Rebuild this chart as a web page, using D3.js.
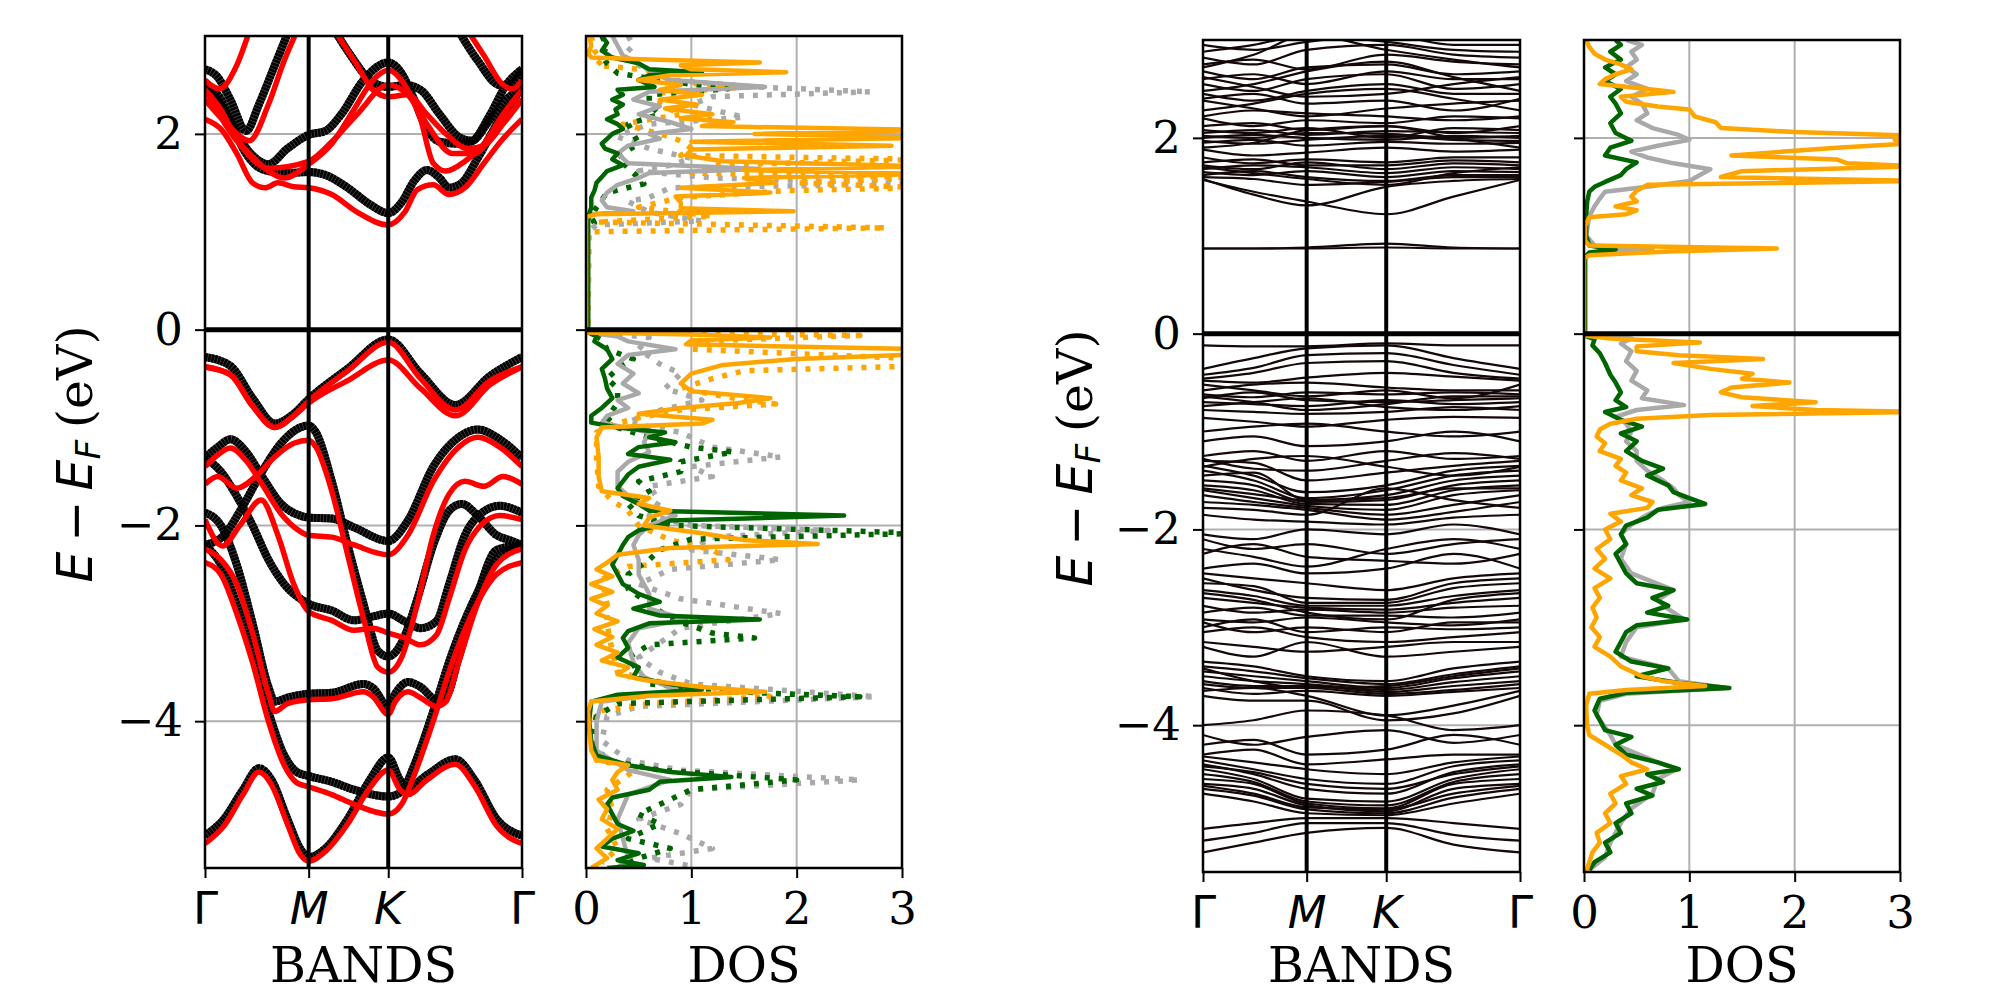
<!DOCTYPE html>
<html>
<head>
<meta charset="utf-8">
<script src="https://cdn.jsdelivr.net/npm/d3@7"></script>
<style>
  body { margin: 0; background: #fff; }
  svg { display: block; }
</style>
</head>
<body>
<script>
// ---------- ticks / ranges ----------
const eTicks = [-4, -2, 0, 2];
const dosTicks = [0, 1, 2, 3];
const kTicks = [0, 0.327, 0.578, 1];
const kLabels = ["Γ", "M", "K", "Γ"];
const eRange = [-5.5, 3];
const dosRange = [0, 3];

// ---------- left bands: [k, E] ----------
const leftBandsBlack = [
  [[0,-0.28],[0.08,-0.37],[0.15,-0.70],[0.22,-0.96],[0.28,-0.86],[0.327,-0.71],[0.45,-0.40],[0.578,-0.10],[0.68,-0.45],[0.79,-0.77],[0.9,-0.47],[1,-0.28]],
  [[0,-1.31],[0.04,-1.2],[0.08,-1.12],[0.13,-1.25],[0.18,-1.5],[0.24,-1.78],[0.3,-1.9],[0.327,-1.92],[0.4,-1.93],[0.47,-2.02],[0.578,-2.16],[0.64,-1.95],[0.72,-1.4],[0.8,-1.1],[0.86,-1.02],[0.93,-1.12],[1,-1.31]],
  [[0,-2.2],[0.06,-2.1],[0.12,-1.8],[0.18,-1.45],[0.24,-1.16],[0.3,-1.0],[0.327,-0.98],[0.35,-1.05],[0.4,-1.55],[0.45,-2.2],[0.5,-2.8],[0.545,-3.28],[0.578,-3.34],[0.62,-3.2],[0.67,-2.75],[0.72,-2.2],[0.77,-1.85],[0.81,-1.78],[0.86,-1.9],[0.92,-2.1],[0.96,-2.15],[1,-2.2]],
  [[0,-1.31],[0.05,-1.45],[0.1,-1.7],[0.15,-2.0],[0.2,-2.35],[0.25,-2.6],[0.327,-2.80],[0.4,-2.87],[0.47,-2.97],[0.53,-2.93],[0.578,-2.9],[0.63,-2.98],[0.68,-3.05],[0.73,-2.98],[0.77,-2.6],[0.82,-2.1],[0.87,-1.88],[0.93,-1.8],[1,-1.87]],
  [[0,-1.87],[0.05,-2.0],[0.1,-2.4],[0.15,-3.0],[0.2,-3.65],[0.22,-3.8],[0.26,-3.76],[0.327,-3.72],[0.4,-3.71],[0.5,-3.62],[0.53,-3.66],[0.578,-3.85],[0.6,-3.72],[0.64,-3.6],[0.68,-3.65],[0.73,-3.78],[0.76,-3.75],[0.8,-3.35],[0.86,-2.7],[0.92,-2.25],[1,-2.2]],
  [[0,-2.2],[0.05,-2.4],[0.1,-2.8],[0.15,-3.3],[0.2,-3.9],[0.25,-4.35],[0.29,-4.52],[0.327,-4.56],[0.4,-4.62],[0.47,-4.7],[0.578,-4.77],[0.62,-4.72],[0.66,-4.45],[0.72,-3.9],[0.78,-3.3],[0.85,-2.75],[0.92,-2.35],[1,-2.2]],
  [[0,-5.17],[0.06,-5.0],[0.12,-4.7],[0.17,-4.48],[0.21,-4.6],[0.26,-5.0],[0.3,-5.3],[0.327,-5.39],[0.38,-5.3],[0.45,-5.0],[0.52,-4.6],[0.578,-4.37],[0.615,-4.6],[0.64,-4.68],[0.7,-4.55],[0.79,-4.39],[0.85,-4.6],[0.92,-5.0],[1,-5.17]],
  [[0,2.47],[0.04,2.4],[0.08,2.15],[0.12,1.85],[0.16,1.68],[0.2,1.62],[0.26,1.6],[0.327,1.61],[0.38,1.58],[0.45,1.45],[0.52,1.28],[0.578,1.19],[0.62,1.3],[0.66,1.52],[0.7,1.63],[0.74,1.55],[0.77,1.45],[0.81,1.5],[0.86,1.75],[0.93,2.15],[1,2.47]],
  [[0,2.66],[0.04,2.58],[0.08,2.35],[0.13,2.03],[0.17,2.3],[0.22,2.7],[0.27,3.1]],
  [[0,2.47],[0.05,2.3],[0.1,2.0],[0.15,1.78],[0.2,1.69],[0.26,1.85],[0.327,1.99],[0.38,2.03],[0.43,2.2],[0.5,2.55],[0.578,2.73],[0.62,2.62],[0.66,2.35],[0.7,2.05],[0.74,1.92],[0.8,1.9],[0.84,1.92],[0.9,2.2],[0.95,2.5],[1,2.66]],
  [[0.41,3.05],[0.46,2.8],[0.52,2.55],[0.578,2.48],[0.63,2.5],[0.68,2.45],[0.74,2.2],[0.8,1.97],[0.84,1.93],[0.9,2.15],[0.95,2.35],[1,2.47]],
  [[0.8,3.05],[0.86,2.75],[0.93,2.5],[0.96,2.5],[1,2.66]]
];

const leftBandsRed = [
  [[0,-0.38],[0.08,-0.46],[0.15,-0.78],[0.22,-1.0],[0.28,-0.88],[0.327,-0.73],[0.45,-0.42],[0.578,-0.13],[0.68,-0.5],[0.79,-0.82],[0.9,-0.52],[1,-0.38]],
  [[0,-0.38],[0.08,-0.46],[0.15,-0.78],[0.22,-1.0],[0.28,-0.88],[0.327,-0.75],[0.45,-0.52],[0.578,-0.31],[0.68,-0.6],[0.79,-0.88],[0.9,-0.56],[1,-0.38]],
  [[0,-1.40],[0.04,-1.28],[0.08,-1.21],[0.13,-1.34],[0.18,-1.58],[0.24,-1.88],[0.3,-2.06],[0.327,-2.1],[0.4,-2.12],[0.47,-2.2],[0.578,-2.3],[0.64,-2.1],[0.72,-1.55],[0.8,-1.2],[0.86,-1.1],[0.93,-1.2],[1,-1.40]],
  [[0,-1.58],[0.04,-1.5],[0.1,-1.62],[0.16,-1.5],[0.22,-1.3],[0.28,-1.16],[0.327,-1.13],[0.35,-1.2],[0.4,-1.65],[0.45,-2.3],[0.5,-2.95],[0.545,-3.45],[0.578,-3.5],[0.62,-3.35],[0.67,-2.8],[0.72,-2.1],[0.77,-1.68],[0.82,-1.55],[0.88,-1.6],[0.94,-1.5],[1,-1.58]],
  [[0,-1.94],[0.055,-2.21],[0.11,-2.0],[0.177,-1.74],[0.23,-2.1],[0.28,-2.6],[0.327,-2.88],[0.4,-2.97],[0.47,-3.07],[0.53,-3.05],[0.578,-3.1],[0.63,-3.15],[0.68,-3.22],[0.73,-3.12],[0.77,-2.75],[0.82,-2.25],[0.87,-2.0],[0.93,-1.9],[1,-1.94]],
  [[0,-2.24],[0.05,-2.35],[0.1,-2.6],[0.15,-3.1],[0.2,-3.72],[0.22,-3.9],[0.26,-3.82],[0.327,-3.78],[0.4,-3.77],[0.5,-3.7],[0.53,-3.75],[0.578,-3.93],[0.6,-3.8],[0.64,-3.7],[0.68,-3.76],[0.73,-3.85],[0.76,-3.8],[0.8,-3.4],[0.86,-2.8],[0.92,-2.4],[1,-2.24]],
  [[0,-2.38],[0.05,-2.5],[0.1,-2.9],[0.15,-3.4],[0.2,-4.0],[0.25,-4.45],[0.29,-4.63],[0.327,-4.67],[0.4,-4.75],[0.47,-4.85],[0.578,-4.95],[0.62,-4.85],[0.66,-4.55],[0.72,-4.0],[0.78,-3.4],[0.85,-2.85],[0.92,-2.5],[1,-2.38]],
  [[0,-5.25],[0.06,-5.07],[0.12,-4.75],[0.17,-4.52],[0.21,-4.65],[0.26,-5.05],[0.3,-5.36],[0.327,-5.43],[0.38,-5.33],[0.45,-5.05],[0.52,-4.68],[0.578,-4.5],[0.615,-4.7],[0.64,-4.75],[0.7,-4.6],[0.79,-4.44],[0.85,-4.66],[0.92,-5.07],[1,-5.25]],
  [[0,2.15],[0.05,2.05],[0.1,1.8],[0.15,1.5],[0.19,1.45],[0.23,1.5],[0.28,1.46],[0.327,1.45],[0.4,1.38],[0.48,1.2],[0.578,1.07],[0.63,1.2],[0.67,1.43],[0.72,1.48],[0.77,1.38],[0.82,1.45],[0.88,1.7],[0.94,1.95],[1,2.15]],
  [[0,2.45],[0.05,2.25],[0.1,1.95],[0.14,1.8],[0.2,1.62],[0.25,1.55],[0.327,1.69],[0.4,1.9],[0.47,2.25],[0.53,2.55],[0.578,2.65],[0.63,2.5],[0.68,2.15],[0.72,1.7],[0.76,1.62],[0.82,1.72],[0.88,1.9],[0.94,2.2],[1,2.45]],
  [[0,2.45],[0.1,1.93],[0.2,1.65],[0.327,1.72],[0.4,1.92],[0.48,2.2],[0.578,2.5],[0.64,2.4],[0.7,2.1],[0.78,1.8],[0.85,1.8],[0.92,2.05],[1,2.35]],
  [[0,2.55],[0.045,2.46],[0.1,2.7],[0.14,3.05]],
  [[0,2.35],[0.07,2.1],[0.14,1.93],[0.2,2.3],[0.25,2.75],[0.29,3.05]],
  [[0.41,3.05],[0.48,2.7],[0.53,2.45],[0.578,2.38],[0.64,2.4],[0.7,2.2],[0.76,2.0],[0.83,1.85],[0.88,1.88],[0.94,2.1],[1,2.35]],
  [[0.83,3.05],[0.88,2.8],[0.94,2.5],[0.97,2.46],[1,2.55]]
];

// ---------- left DOS: [E, dos] ----------
const leftDosOrange = [[3.0,0.03],[2.9,0.05],[2.82,0.02],[2.78,0.05],[2.76,0.6],[2.73,1.65],[2.7,0.9],[2.66,1.0],[2.63,1.9],[2.6,0.8],[2.55,0.5],[2.5,0.9],[2.45,0.7],[2.4,1.1],[2.35,0.7],[2.3,1.05],[2.26,0.75],[2.2,1.2],[2.16,0.9],[2.12,1.4],[2.08,1.1],[2.04,3.2],[2.0,1.6],[1.96,3.2],[1.92,1.0],[1.88,2.9],[1.84,1.0],[1.78,0.95],[1.72,1.3],[1.67,3.2],[1.63,1.5],[1.59,3.2],[1.55,1.5],[1.5,1.8],[1.45,0.9],[1.4,1.75],[1.36,0.85],[1.3,0.9],[1.24,0.9],[1.21,1.97],[1.18,0.1],[1.15,0.0],[0.05,0.0],
  [-0.03,0.0],[-0.05,1.0],[-0.08,1.75],[-0.11,1.0],[-0.15,0.95],[-0.2,3.2],[-0.25,3.2],[-0.3,2.0],[-0.36,1.3],[-0.45,1.0],[-0.55,0.9],[-0.63,1.0],[-0.7,1.75],[-0.75,1.45],[-0.8,0.9],[-0.86,0.5],[-0.92,1.2],[-0.96,1.1],[-1.0,0.15],[-1.1,0.1],[-1.3,0.12],[-1.5,0.12],[-1.65,0.15],[-1.72,0.6],[-1.78,0.5],[-1.85,0.8],[-1.92,0.6],[-2.0,0.55],[-2.08,1.1],[-2.15,1.5],[-2.19,2.2],[-2.23,0.8],[-2.3,0.3],[-2.38,0.2],[-2.45,0.1],[-2.52,0.25],[-2.6,0.05],[-2.68,0.25],[-2.75,0.05],[-2.82,0.2],[-2.9,0.1],[-2.98,0.3],[-3.06,0.08],[-3.14,0.25],[-3.22,0.1],[-3.3,0.3],[-3.38,0.15],[-3.45,0.4],[-3.52,0.3],[-3.58,0.55],[-3.65,1.1],[-3.7,1.7],[-3.74,0.6],[-3.8,0.05],[-3.9,0.02],[-4.1,0.03],[-4.3,0.05],[-4.4,0.1],[-4.45,0.4],[-4.52,0.3],[-4.6,0.25],[-4.7,0.3],[-4.8,0.12],[-4.9,0.2],[-5.0,0.15],[-5.1,0.3],[-5.2,0.2],[-5.3,0.1],[-5.4,0.2],[-5.5,0.05]];
const leftDosGreen = [[3.0,0.15],[2.93,0.2],[2.85,0.15],[2.78,0.25],[2.72,0.5],[2.66,0.6],[2.63,1.1],[2.6,0.6],[2.55,0.5],[2.48,0.65],[2.45,0.3],[2.4,0.35],[2.35,0.25],[2.3,0.35],[2.25,0.28],[2.2,0.3],[2.15,0.2],[2.1,0.3],[2.05,0.35],[2.0,0.25],[1.95,0.2],[1.9,0.15],[1.85,0.18],[1.8,0.3],[1.74,0.25],[1.68,0.35],[1.62,0.2],[1.56,0.15],[1.5,0.1],[1.42,0.08],[1.35,0.05],[1.25,0.05],[1.18,0.03],[1.1,0.02],[0.05,0.02],
  [-0.03,0.02],[-0.07,0.1],[-0.12,0.08],[-0.2,0.2],[-0.3,0.25],[-0.4,0.15],[-0.5,0.18],[-0.6,0.2],[-0.7,0.25],[-0.8,0.15],[-0.88,0.05],[-0.95,0.05],[-1.0,0.3],[-1.05,0.75],[-1.1,0.6],[-1.15,0.85],[-1.2,0.5],[-1.27,0.4],[-1.33,0.8],[-1.4,0.5],[-1.48,0.4],[-1.55,0.35],[-1.62,0.3],[-1.7,0.35],[-1.78,0.5],[-1.85,0.6],[-1.9,2.45],[-1.95,0.8],[-2.0,0.7],[-2.05,0.5],[-2.12,0.4],[-2.2,0.35],[-2.3,0.3],[-2.4,0.25],[-2.5,0.3],[-2.6,0.35],[-2.7,0.5],[-2.78,0.7],[-2.85,0.45],[-2.92,0.7],[-2.96,1.65],[-3.0,0.6],[-3.08,0.4],[-3.15,0.35],[-3.25,0.4],[-3.35,0.3],[-3.45,0.5],[-3.55,0.45],[-3.62,0.8],[-3.68,1.1],[-3.73,0.3],[-3.8,0.05],[-4.0,0.03],[-4.2,0.05],[-4.35,0.1],[-4.45,0.4],[-4.52,0.8],[-4.57,1.38],[-4.62,0.7],[-4.7,0.6],[-4.78,0.25],[-4.85,0.2],[-4.95,0.25],[-5.05,0.3],[-5.12,0.45],[-5.2,0.25],[-5.28,0.15],[-5.35,0.5],[-5.42,0.3],[-5.47,0.55],[-5.5,0.2]];
const leftDosGray = [[3.0,0.25],[2.9,0.3],[2.8,0.35],[2.75,0.45],[2.65,0.6],[2.55,0.8],[2.48,1.7],[2.43,0.6],[2.35,0.45],[2.28,0.7],[2.2,0.5],[2.12,0.8],[2.05,1.0],[2.0,0.6],[1.95,0.7],[1.88,0.4],[1.8,0.3],[1.7,0.4],[1.64,1.65],[1.6,0.6],[1.55,0.5],[1.48,0.3],[1.4,0.2],[1.32,0.15],[1.25,0.2],[1.21,0.45],[1.18,0.05],[1.1,0.02],[0.05,0.02],
  [-0.03,0.02],[-0.07,0.3],[-0.12,0.4],[-0.2,0.85],[-0.26,0.4],[-0.35,0.3],[-0.45,0.45],[-0.55,0.35],[-0.65,0.5],[-0.72,0.3],[-0.8,0.4],[-0.88,0.2],[-0.95,0.15],[-1.05,0.6],[-1.15,0.55],[-1.25,0.6],[-1.35,0.4],[-1.45,0.3],[-1.6,0.3],[-1.75,0.45],[-1.9,0.85],[-2.0,0.6],[-2.1,0.5],[-2.2,0.45],[-2.35,0.5],[-2.5,0.5],[-2.7,0.6],[-2.85,0.6],[-2.96,0.95],[-3.05,0.5],[-3.2,0.4],[-3.4,0.45],[-3.55,0.55],[-3.7,0.9],[-3.8,0.15],[-4.0,0.1],[-4.3,0.1],[-4.5,0.4],[-4.6,0.8],[-4.75,0.4],[-5.0,0.3],[-5.2,0.35],[-5.4,0.4],[-5.5,0.3]];
const leftDosOrangeDot = [[3.0,0.05],[2.85,0.08],[2.75,0.15],[2.7,0.1],[2.63,0.8],[2.55,0.5],[2.48,1.55],[2.42,0.7],[2.3,0.7],[2.2,0.9],[2.1,0.35],[2.0,0.7],[1.93,0.9],[1.85,1.0],[1.78,0.9],[1.74,3.2],[1.68,1.2],[1.6,1.0],[1.55,3.2],[1.5,2.0],[1.45,3.2],[1.42,1.9],[1.35,0.9],[1.25,0.5],[1.16,1.2],[1.1,0.1],[1.04,2.85],[1.0,0.03],[0.05,0.02],
  [-0.02,0.02],[-0.06,2.6],[-0.12,1.0],[-0.2,1.0],[-0.3,3.2],[-0.37,3.2],[-0.42,1.5],[-0.5,1.2],[-0.6,0.9],[-0.7,1.4],[-0.76,1.8],[-0.82,0.9],[-0.9,0.5],[-0.97,0.25],[-1.05,0.1],[-1.3,0.1],[-1.6,0.12],[-1.75,0.25],[-1.85,0.4],[-2.0,0.5],[-2.15,0.8],[-2.25,1.2],[-2.35,1.35],[-2.42,0.4],[-2.55,0.15],[-2.8,0.2],[-3.0,0.2],[-3.3,0.25],[-3.5,0.3],[-3.62,0.8],[-3.7,1.6],[-3.75,1.75],[-3.82,0.6],[-3.9,0.1],[-4.2,0.05],[-4.4,0.1],[-4.48,0.5],[-4.55,0.4],[-4.7,0.2],[-4.9,0.25],[-5.1,0.2],[-5.3,0.3],[-5.45,0.15]];
const leftDosGrayDot = [[3.0,0.4],[2.9,0.45],[2.8,0.35],[2.7,0.5],[2.55,0.8],[2.48,1.6],[2.43,2.7],[2.38,1.2],[2.3,1.0],[2.17,1.5],[2.1,0.6],[2.0,0.35],[1.97,0.3],[1.85,0.6],[1.75,1.0],[1.68,0.8],[1.62,0.5],[1.55,1.2],[1.49,3.2],[1.45,0.8],[1.35,0.6],[1.31,0.4],[1.2,0.6],[1.11,1.1],[1.07,0.1],[1.0,0.02],[0.05,0.02],
  [-0.02,0.02],[-0.08,0.6],[-0.2,0.5],[-0.35,0.7],[-0.45,0.9],[-0.6,0.75],[-0.72,1.1],[-0.85,0.6],[-0.95,0.4],[-1.05,0.9],[-1.2,1.2],[-1.3,1.85],[-1.4,1.0],[-1.5,1.2],[-1.6,0.6],[-1.75,0.7],[-1.9,0.6],[-2.0,1.0],[-2.05,2.3],[-2.12,1.2],[-2.25,1.0],[-2.35,1.85],[-2.45,0.8],[-2.6,0.5],[-2.75,0.9],[-2.9,1.85],[-3.05,0.9],[-3.2,0.7],[-3.35,0.5],[-3.5,0.7],[-3.62,1.0],[-3.75,2.75],[-3.85,0.5],[-3.95,0.2],[-4.2,0.15],[-4.4,0.4],[-4.5,0.9],[-4.6,2.6],[-4.7,1.0],[-4.85,0.9],[-5.0,0.5],[-5.15,0.9],[-5.3,1.2],[-5.4,0.6],[-5.48,1.0]];
const leftDosGreenDot = [[3.0,0.15],[2.9,0.2],[2.8,0.15],[2.72,0.2],[2.62,0.3],[2.55,0.7],[2.46,1.35],[2.4,0.6],[2.3,0.6],[2.2,0.7],[2.1,0.4],[2.0,0.45],[1.9,0.5],[1.8,0.35],[1.76,0.3],[1.65,0.4],[1.55,0.5],[1.49,0.55],[1.4,0.2],[1.25,0.1],[1.15,0.05],[1.09,0.08],[1.0,0.01],[0.05,0.01],
  [-0.02,0.01],[-0.1,0.15],[-0.2,0.2],[-0.3,0.45],[-0.4,0.3],[-0.5,0.2],[-0.6,0.3],[-0.75,0.3],[-0.9,0.2],[-1.0,0.3],[-1.1,0.6],[-1.2,1.0],[-1.25,1.4],[-1.35,0.9],[-1.45,0.9],[-1.55,0.5],[-1.65,0.6],[-1.78,0.4],[-1.9,0.5],[-2.0,0.8],[-2.08,3.2],[-2.14,1.0],[-2.25,0.7],[-2.35,0.6],[-2.5,0.4],[-2.65,0.4],[-2.8,0.6],[-2.95,0.8],[-3.1,1.2],[-3.15,1.6],[-3.22,0.6],[-3.35,0.4],[-3.5,0.5],[-3.62,0.6],[-3.7,1.4],[-3.75,2.6],[-3.82,0.3],[-3.95,0.1],[-4.2,0.05],[-4.4,0.2],[-4.5,0.7],[-4.6,2.0],[-4.7,1.0],[-4.8,0.8],[-4.95,0.5],[-5.05,0.7],[-5.2,0.4],[-5.3,0.8],[-5.4,0.5],[-5.5,0.3]];

// ---------- right bands: E at kNodes ----------
const kNodes = [0, 0.16, 0.327, 0.578, 0.79, 1];
const rightBands = [
  [0.87,0.87,0.87,0.88,0.87,0.87],[0.87,0.87,0.88,0.92,0.88,0.87],
  [1.57,1.45,1.35,1.22,1.40,1.57],[1.58,1.42,1.31,1.50,1.56,1.58],[1.60,1.58,1.52,1.55,1.60,1.60],
  [1.62,1.66,1.60,1.56,1.62,1.62],[1.65,1.62,1.66,1.60,1.66,1.65],[1.68,1.72,1.70,1.64,1.70,1.68],
  [1.72,1.68,1.75,1.68,1.74,1.72],[1.75,1.78,1.72,1.72,1.77,1.75],[1.80,1.74,1.78,1.75,1.80,1.80],
  [1.88,1.82,1.85,1.90,1.86,1.88],[1.95,1.98,1.92,1.96,1.94,1.95],[1.97,1.94,1.98,2.02,1.98,1.97],
  [2.00,2.03,2.00,1.98,2.02,2.00],[2.02,2.00,2.05,2.04,2.00,2.02],[2.05,2.08,2.03,2.07,2.06,2.05],
  [2.08,2.05,2.10,2.00,2.10,2.08],[2.12,2.15,2.08,2.12,2.05,2.12],[2.20,2.12,2.18,2.15,2.22,2.20],
  [2.22,2.28,2.25,2.22,2.18,2.22],[2.38,2.30,2.22,2.30,2.35,2.38],[2.40,2.45,2.35,2.38,2.28,2.40],
  [2.45,2.38,2.48,2.55,2.45,2.45],[2.55,2.48,2.60,2.65,2.50,2.55],[2.60,2.65,2.55,2.68,2.60,2.60],
  [2.68,2.60,2.72,2.75,2.65,2.68],[2.75,2.80,2.70,2.85,2.78,2.75],[2.82,2.75,2.90,2.95,2.85,2.82],
  [2.95,2.90,2.98,3.05,2.95,2.95],[2.72,2.85,3.05,2.90,2.80,2.72],
  [1.90,1.95,2.08,2.12,2.00,1.90],[2.28,2.35,2.45,2.50,2.40,2.28],[2.48,2.55,2.68,2.78,2.62,2.48],
  [2.62,2.52,2.42,2.45,2.55,2.62],[2.88,2.95,3.05,2.98,2.90,2.88],[1.70,1.64,1.58,1.52,1.64,1.70],
  [-0.12,-0.13,-0.13,-0.10,-0.12,-0.12],[-0.36,-0.25,-0.15,-0.12,-0.25,-0.36],[-0.42,-0.35,-0.22,-0.20,-0.32,-0.42],
  [-0.46,-0.40,-0.30,-0.28,-0.40,-0.46],[-0.48,-0.50,-0.45,-0.40,-0.44,-0.48],[-0.58,-0.52,-0.50,-0.55,-0.58,-0.58],
  [-0.62,-0.65,-0.60,-0.62,-0.60,-0.62],[-0.66,-0.60,-0.68,-0.70,-0.68,-0.66],[-0.70,-0.72,-0.74,-0.68,-0.72,-0.70],
  [-0.74,-0.70,-0.66,-0.75,-0.78,-0.74],[-0.78,-0.80,-0.82,-0.80,-0.75,-0.78],[-0.86,-0.90,-0.95,-0.88,-0.85,-0.86],
  [-1.00,-0.95,-0.92,-1.00,-1.05,-1.00],[-1.10,-1.05,-1.15,-1.10,-1.00,-1.10],[-1.25,-1.20,-1.30,-1.20,-1.28,-1.25],
  [-1.28,-1.38,-1.40,-1.30,-1.22,-1.28],[-1.30,-1.32,-1.50,-1.42,-1.35,-1.30],[-1.35,-1.45,-1.62,-1.55,-1.40,-1.35],
  [-1.40,-1.50,-1.68,-1.60,-1.45,-1.40],[-1.45,-1.42,-1.70,-1.65,-1.50,-1.45],[-1.50,-1.55,-1.72,-1.70,-1.55,-1.50],
  [-1.55,-1.60,-1.74,-1.75,-1.60,-1.55],[-1.60,-1.68,-1.76,-1.80,-1.65,-1.60],[-1.65,-1.72,-1.78,-1.85,-1.75,-1.65],
  [-1.72,-1.75,-1.80,-1.90,-1.82,-1.72],[-1.78,-1.80,-1.85,-1.58,-1.70,-1.78],[-1.85,-1.90,-1.92,-1.95,-1.88,-1.85],
  [-2.05,-2.10,-2.00,-2.05,-1.95,-2.05],[-2.10,-2.20,-2.15,-2.25,-2.15,-2.10],[-2.25,-2.15,-2.28,-2.32,-2.35,-2.25],
  [-2.40,-2.35,-2.45,-2.40,-2.25,-2.40],[-2.45,-2.50,-2.55,-2.62,-2.50,-2.45],[-2.50,-2.62,-2.70,-2.72,-2.55,-2.50],
  [-2.55,-2.58,-2.75,-2.75,-2.60,-2.55],[-2.62,-2.68,-2.78,-2.78,-2.68,-2.62],[-2.70,-2.75,-2.80,-2.82,-2.75,-2.70],
  [-2.78,-2.85,-2.82,-2.85,-2.80,-2.78],[-2.85,-2.80,-2.88,-2.88,-2.90,-2.85],[-2.92,-2.95,-2.90,-2.95,-2.98,-2.92],
  [-2.95,-3.05,-3.00,-3.05,-2.95,-2.95],[-3.05,-3.00,-3.10,-3.15,-3.10,-3.05],[-3.15,-3.20,-3.25,-3.20,-3.15,-3.15],
  [-3.20,-3.30,-3.15,-3.30,-3.25,-3.20],[-3.35,-3.40,-3.50,-3.55,-3.42,-3.35],[-3.40,-3.45,-3.52,-3.58,-3.48,-3.40],
  [-3.45,-3.50,-3.55,-3.62,-3.52,-3.45],[-3.50,-3.55,-3.58,-3.64,-3.56,-3.50],[-3.55,-3.60,-3.60,-3.66,-3.60,-3.55],
  [-3.58,-3.62,-3.62,-3.68,-3.64,-3.58],[-3.62,-3.68,-3.65,-3.70,-3.66,-3.62],[-3.65,-3.62,-3.70,-3.90,-3.80,-3.65],
  [-3.70,-3.75,-3.75,-3.95,-3.88,-3.70],[-4.00,-3.95,-3.85,-3.90,-4.05,-4.00],[-4.20,-4.15,-4.30,-4.25,-4.10,-4.20],
  [-4.30,-4.25,-4.40,-4.35,-4.30,-4.30],[-4.32,-4.38,-4.45,-4.50,-4.38,-4.32],[-4.36,-4.45,-4.55,-4.60,-4.42,-4.36],
  [-4.40,-4.50,-4.65,-4.70,-4.48,-4.40],[-4.45,-4.55,-4.75,-4.78,-4.55,-4.45],[-4.55,-4.60,-4.80,-4.85,-4.60,-4.55],
  [-4.60,-4.65,-4.82,-4.88,-4.65,-4.60],[-4.62,-4.70,-4.84,-4.86,-4.70,-4.62],[-4.65,-4.72,-4.86,-4.90,-4.74,-4.65],
  [-4.70,-4.78,-4.90,-4.92,-4.80,-4.70],[-5.06,-5.00,-4.95,-4.95,-5.00,-5.06],[-5.18,-5.10,-5.00,-5.00,-5.12,-5.18],
  [-5.30,-5.20,-5.10,-5.05,-5.22,-5.30],
  [-0.52,-0.58,-0.64,-0.58,-0.66,-0.52],[-0.64,-0.70,-0.78,-0.72,-0.64,-0.64],[-1.36,-1.28,-1.25,-1.36,-1.45,-1.36],
  [-1.58,-1.64,-1.70,-1.68,-1.58,-1.58],[-2.20,-2.28,-2.38,-2.20,-2.10,-2.20],[-2.65,-2.72,-2.85,-2.92,-2.72,-2.65],
  [-3.00,-2.92,-3.05,-3.00,-3.02,-3.00],[-3.42,-3.55,-3.62,-3.60,-3.50,-3.42],[-4.10,-4.20,-4.12,-4.05,-4.18,-4.10],
  [-4.42,-4.48,-4.60,-4.65,-4.50,-4.42],[-4.50,-4.58,-4.78,-4.82,-4.58,-4.50]
];

// ---------- right DOS: [E, dos] ----------
const rightDosOrange = [[3.0,0.02],[2.93,0.05],[2.86,0.1],[2.8,0.2],[2.75,0.35],[2.7,0.45],[2.65,0.3],[2.6,0.2],[2.55,0.15],[2.5,0.6],[2.47,0.85],[2.42,0.35],[2.37,0.4],[2.32,0.7],[2.29,1.0],[2.22,1.05],[2.16,1.25],[2.1,1.3],[2.06,2.0],[2.02,3.2],[1.98,2.95],[1.95,3.2],[1.9,2.4],[1.86,1.9],[1.82,1.4],[1.78,2.4],[1.74,2.5],[1.71,3.2],[1.66,1.5],[1.6,1.3],[1.56,3.2],[1.52,0.6],[1.46,0.5],[1.4,0.45],[1.35,0.5],[1.3,0.3],[1.26,0.5],[1.22,0.4],[1.19,0.05],[1.1,0.01],[0.95,0.01],[0.9,0.05],[0.87,1.83],[0.84,0.8],[0.8,0.05],[0.77,0.0],[0.03,0.0],
  [-0.02,0.0],[-0.05,0.25],[-0.09,1.1],[-0.13,0.5],[-0.18,0.5],[-0.22,0.9],[-0.26,1.7],[-0.3,0.85],[-0.36,1.2],[-0.41,1.6],[-0.46,1.5],[-0.5,1.95],[-0.55,1.4],[-0.6,1.3],[-0.65,1.5],[-0.7,2.2],[-0.74,1.6],[-0.78,2.2],[-0.8,3.2],[-0.83,1.2],[-0.87,0.5],[-0.92,0.25],[-0.98,0.15],[-1.05,0.12],[-1.12,0.2],[-1.2,0.15],[-1.28,0.35],[-1.35,0.3],[-1.42,0.4],[-1.5,0.35],[-1.58,0.55],[-1.65,0.45],[-1.72,0.65],[-1.78,0.6],[-1.84,0.25],[-1.92,0.35],[-2.0,0.2],[-2.1,0.25],[-2.2,0.12],[-2.3,0.2],[-2.4,0.1],[-2.5,0.25],[-2.6,0.1],[-2.7,0.15],[-2.8,0.08],[-2.9,0.12],[-3.0,0.07],[-3.1,0.15],[-3.2,0.1],[-3.3,0.25],[-3.4,0.35],[-3.5,0.55],[-3.55,0.75],[-3.6,1.15],[-3.64,0.4],[-3.68,0.05],[-3.8,0.02],[-4.0,0.03],[-4.1,0.05],[-4.2,0.2],[-4.3,0.35],[-4.38,0.45],[-4.45,0.6],[-4.52,0.35],[-4.6,0.4],[-4.7,0.25],[-4.8,0.3],[-4.9,0.2],[-5.0,0.25],[-5.1,0.12],[-5.2,0.15],[-5.3,0.08],[-5.4,0.05],[-5.5,0.02]];
const rightDosGreen = [[3.0,0.3],[2.95,0.35],[2.88,0.25],[2.8,0.35],[2.72,0.2],[2.65,0.3],[2.58,0.2],[2.5,0.35],[2.42,0.25],[2.35,0.3],[2.25,0.35],[2.15,0.25],[2.05,0.3],[1.97,0.45],[1.9,0.25],[1.82,0.2],[1.75,0.5],[1.68,0.4],[1.62,0.35],[1.55,0.2],[1.5,0.1],[1.45,0.05],[1.35,0.03],[1.2,0.02],[1.0,0.02],[0.9,0.05],[0.86,0.3],[0.83,0.05],[0.78,0.01],[0.03,0.01],
  [-0.02,0.01],[-0.06,0.1],[-0.12,0.08],[-0.2,0.15],[-0.3,0.2],[-0.42,0.25],[-0.5,0.3],[-0.6,0.35],[-0.68,0.3],[-0.75,0.4],[-0.8,0.2],[-0.88,0.35],[-0.95,0.55],[-1.02,0.35],[-1.1,0.5],[-1.2,0.4],[-1.3,0.55],[-1.38,0.75],[-1.45,0.6],[-1.55,0.8],[-1.62,0.85],[-1.68,1.0],[-1.74,1.15],[-1.8,0.7],[-1.88,0.6],[-1.96,0.4],[-2.05,0.35],[-2.15,0.4],[-2.25,0.3],[-2.35,0.35],[-2.45,0.4],[-2.55,0.5],[-2.62,0.85],[-2.7,0.65],[-2.78,0.8],[-2.85,0.6],[-2.92,0.98],[-2.98,0.5],[-3.05,0.4],[-3.15,0.35],[-3.25,0.3],[-3.35,0.45],[-3.42,0.8],[-3.5,0.5],[-3.57,0.9],[-3.62,1.38],[-3.67,0.4],[-3.73,0.15],[-3.85,0.1],[-3.95,0.15],[-4.05,0.2],[-4.12,0.45],[-4.2,0.3],[-4.3,0.4],[-4.38,0.7],[-4.45,0.9],[-4.5,0.6],[-4.58,0.75],[-4.65,0.5],[-4.72,0.65],[-4.8,0.4],[-4.9,0.45],[-5.0,0.3],[-5.1,0.35],[-5.2,0.2],[-5.3,0.25],[-5.4,0.1],[-5.48,0.05]];
const rightDosGray = [[3.0,0.4],[2.95,0.55],[2.88,0.45],[2.8,0.5],[2.72,0.4],[2.65,0.5],[2.58,0.4],[2.5,0.6],[2.42,0.45],[2.35,0.55],[2.25,0.6],[2.18,0.5],[2.1,0.65],[2.03,0.9],[1.98,1.0],[1.92,0.7],[1.86,0.45],[1.8,0.6],[1.74,0.85],[1.68,1.2],[1.62,1.1],[1.56,1.0],[1.5,0.6],[1.45,0.2],[1.38,0.15],[1.3,0.1],[1.2,0.05],[1.0,0.02],[0.9,0.1],[0.86,0.65],[0.83,0.1],[0.78,0.01],[0.03,0.01],
  [-0.02,0.01],[-0.05,0.45],[-0.1,0.35],[-0.18,0.45],[-0.28,0.4],[-0.38,0.5],[-0.48,0.45],[-0.58,0.6],[-0.66,0.55],[-0.73,0.95],[-0.78,0.5],[-0.85,0.3],[-0.92,0.4],[-1.0,0.45],[-1.1,0.4],[-1.2,0.5],[-1.3,0.5],[-1.4,0.6],[-1.5,0.75],[-1.58,0.85],[-1.65,0.9],[-1.72,1.0],[-1.78,0.75],[-1.85,0.6],[-1.95,0.45],[-2.05,0.35],[-2.15,0.4],[-2.3,0.35],[-2.45,0.45],[-2.62,0.85],[-2.72,0.7],[-2.8,0.78],[-2.92,0.95],[-3.0,0.5],[-3.15,0.4],[-3.3,0.35],[-3.42,0.8],[-3.55,0.9],[-3.62,1.35],[-3.68,0.4],[-3.75,0.15],[-3.9,0.12],[-4.1,0.25],[-4.2,0.3],[-4.38,0.7],[-4.45,0.88],[-4.55,0.7],[-4.7,0.65],[-4.85,0.45],[-5.0,0.35],[-5.2,0.25],[-5.35,0.2],[-5.48,0.05]];

// ---------- drawing ----------
const width = 2000, height = 994;
const svg = d3.select("body").append("svg")
  .attr("width", width).attr("height", height)
  .attr("font-family", "DejaVu Serif");

const minus = d => d < 0 ? "\u2212" + Math.abs(d) : String(d);

function panel(x0, y0, w, h, kind, id) {
  const g = svg.append("g").attr("transform", `translate(${x0},${y0})`);
  const x = d3.scaleLinear().domain(kind === "bands" ? [0, 1] : dosRange).range([0, w]);
  const y = d3.scaleLinear().domain(eRange).range([h, 0]);
  g.append("clipPath").attr("id", id).append("rect").attr("width", w).attr("height", h);

  // grid
  g.append("g").selectAll("line").data(eTicks.filter(e => e !== 0)).join("line")
    .attr("x1", 0).attr("x2", w).attr("y1", d => y(d)).attr("y2", d => y(d))
    .attr("stroke", "#b0b0b0").attr("stroke-width", 2);
  if (kind === "dos") {
    g.append("g").selectAll("line").data(dosTicks).join("line")
      .attr("x1", d => x(d)).attr("x2", d => x(d)).attr("y1", 0).attr("y2", h)
      .attr("stroke", "#b0b0b0").attr("stroke-width", 2);
  }
  const body = g.append("g").attr("clip-path", `url(#${id})`);
  return { g, x, y, w, h, body, kind, y0 };
}

function finish(p, yLabels) {
  const { g, x, y, w, h } = p;
  g.append("line").attr("x1", 0).attr("x2", w).attr("y1", y(0)).attr("y2", y(0))
    .attr("stroke", "#000").attr("stroke-width", 5);
  if (p.kind === "bands") {
    g.append("g").selectAll("line").data(kTicks.slice(1, 3)).join("line")
      .attr("x1", d => x(d)).attr("x2", d => x(d)).attr("y1", 0).attr("y2", h)
      .attr("stroke", "#000").attr("stroke-width", 4);
  }
  g.append("rect").attr("width", w).attr("height", h)
    .attr("fill", "none").attr("stroke", "#000").attr("stroke-width", 2.5);

  const ya = g.append("g").call(d3.axisLeft(y).tickValues(eTicks).tickSize(10).tickPadding(12)
    .tickFormat(d => yLabels ? minus(d) : ""));
  const xa = g.append("g").attr("transform", `translate(0,${h})`);
  if (p.kind === "bands") {
    xa.call(d3.axisBottom(x).tickValues(kTicks).tickSize(10).tickPadding(14)
      .tickFormat((d, i) => kLabels[i]));
  } else {
    xa.call(d3.axisBottom(x).tickValues(dosTicks).tickSize(10).tickPadding(14).tickFormat(d => d));
  }
  [ya, xa].forEach(a => {
    a.select(".domain").remove();
    a.attr("font-size", 45).attr("font-family", "DejaVu Serif");
    a.selectAll(".tick line").attr("stroke", "#000").attr("stroke-width", 2);
    a.selectAll(".tick text").attr("fill", "#000");
  });
  if (p.kind === "bands") {
    xa.selectAll(".tick text").attr("font-family", "DejaVu Sans")
      .attr("font-style", (d, i) => (i === 1 || i === 2) ? "italic" : "normal");
  }
  g.append("text").attr("x", w / 2).attr("y", Math.min(h + 114, height - 12 - p.y0))
    .attr("text-anchor", "middle")
    .attr("font-size", 49).text(p.kind === "bands" ? "BANDS" : "DOS");
}

function yLabel(cx, cy) {
  const t = svg.append("text").attr("transform", `translate(${cx},${cy}) rotate(-90)`)
    .attr("text-anchor", "middle").attr("font-size", 49);
  t.append("tspan").attr("font-family", "DejaVu Sans").attr("font-style", "italic").text("E");
  t.append("tspan").attr("font-family", "DejaVu Sans").attr("dx", 10).text("\u2212");
  t.append("tspan").attr("font-family", "DejaVu Sans").attr("font-style", "italic").attr("dx", 10).text("E");
  t.append("tspan").attr("font-family", "DejaVu Sans").attr("font-style", "italic")
    .attr("font-size", 34).attr("dy", 8).text("F");
  t.append("tspan").attr("dy", -8).attr("dx", 12).text("(eV)");
}

const bandLine = (p) => d3.line().x(d => p.x(d[0])).y(d => p.y(d[1])).curve(d3.curveMonotoneX);
const dosLine = (p) => d3.line().x(d => p.x(d[1])).y(d => p.y(d[0]));

// left bands: black drawn as a dark underlay with a fine hatched top stroke
const lb = panel(205, 36, 317, 832, "bands", "clipLB");
lb.body.append("g").selectAll("path").data(leftBandsBlack).join("path")
  .attr("d", bandLine(lb)).attr("fill", "none")
  .attr("stroke", "#4a4a4a").attr("stroke-width", 8);
lb.body.append("g").selectAll("path").data(leftBandsBlack).join("path")
  .attr("d", bandLine(lb)).attr("fill", "none")
  .attr("stroke", "#000").attr("stroke-width", 8).attr("stroke-dasharray", "2.6 0.7");
lb.body.append("g").selectAll("path").data(leftBandsRed).join("path")
  .attr("d", bandLine(lb)).attr("fill", "none")
  .attr("stroke", "#ff0000").attr("stroke-width", 5.5);
finish(lb, true);

// left DOS
const ld = panel(586, 36, 316, 832, "dos", "clipLD");
const leftDosSeries = [
  { d: leftDosGrayDot, c: "#a9a9a9", dot: true },
  { d: leftDosOrangeDot, c: "#ffa500", dot: true },
  { d: leftDosGreenDot, c: "#006400", dot: true },
  { d: leftDosGray, c: "#a9a9a9", dot: false },
  { d: leftDosGreen, c: "#006400", dot: false },
  { d: leftDosOrange, c: "#ffa500", dot: false }
];
ld.body.selectAll("path").data(leftDosSeries).join("path")
  .attr("d", s => dosLine(ld)(s.d)).attr("fill", "none")
  .attr("stroke", s => s.c).attr("stroke-width", s => s.dot ? 5.5 : 4.5)
  .attr("stroke-dasharray", s => s.dot ? "5 9" : null)
  .attr("stroke-linejoin", "round");
finish(ld, false);

// right bands
const rb = panel(1203, 40, 317, 832, "bands", "clipRB");
rb.body.selectAll("path").data(rightBands).join("path")
  .attr("d", b => bandLine(rb)(b.map((e, i) => [kNodes[i], e]))).attr("fill", "none")
  .attr("stroke", "#140808").attr("stroke-width", 2.2);
finish(rb, true);

// right DOS
const rd = panel(1584, 40, 316, 832, "dos", "clipRD");
const rightDosSeries = [
  { d: rightDosGray, c: "#a9a9a9" },
  { d: rightDosGreen, c: "#006400" },
  { d: rightDosOrange, c: "#ffa500" }
];
rd.body.selectAll("path").data(rightDosSeries).join("path")
  .attr("d", s => dosLine(rd)(s.d)).attr("fill", "none")
  .attr("stroke", s => s.c).attr("stroke-width", 4.5).attr("stroke-linejoin", "round");
finish(rd, false);

yLabel(92, 454);
yLabel(1092, 458);
</script>
</body>
</html>
